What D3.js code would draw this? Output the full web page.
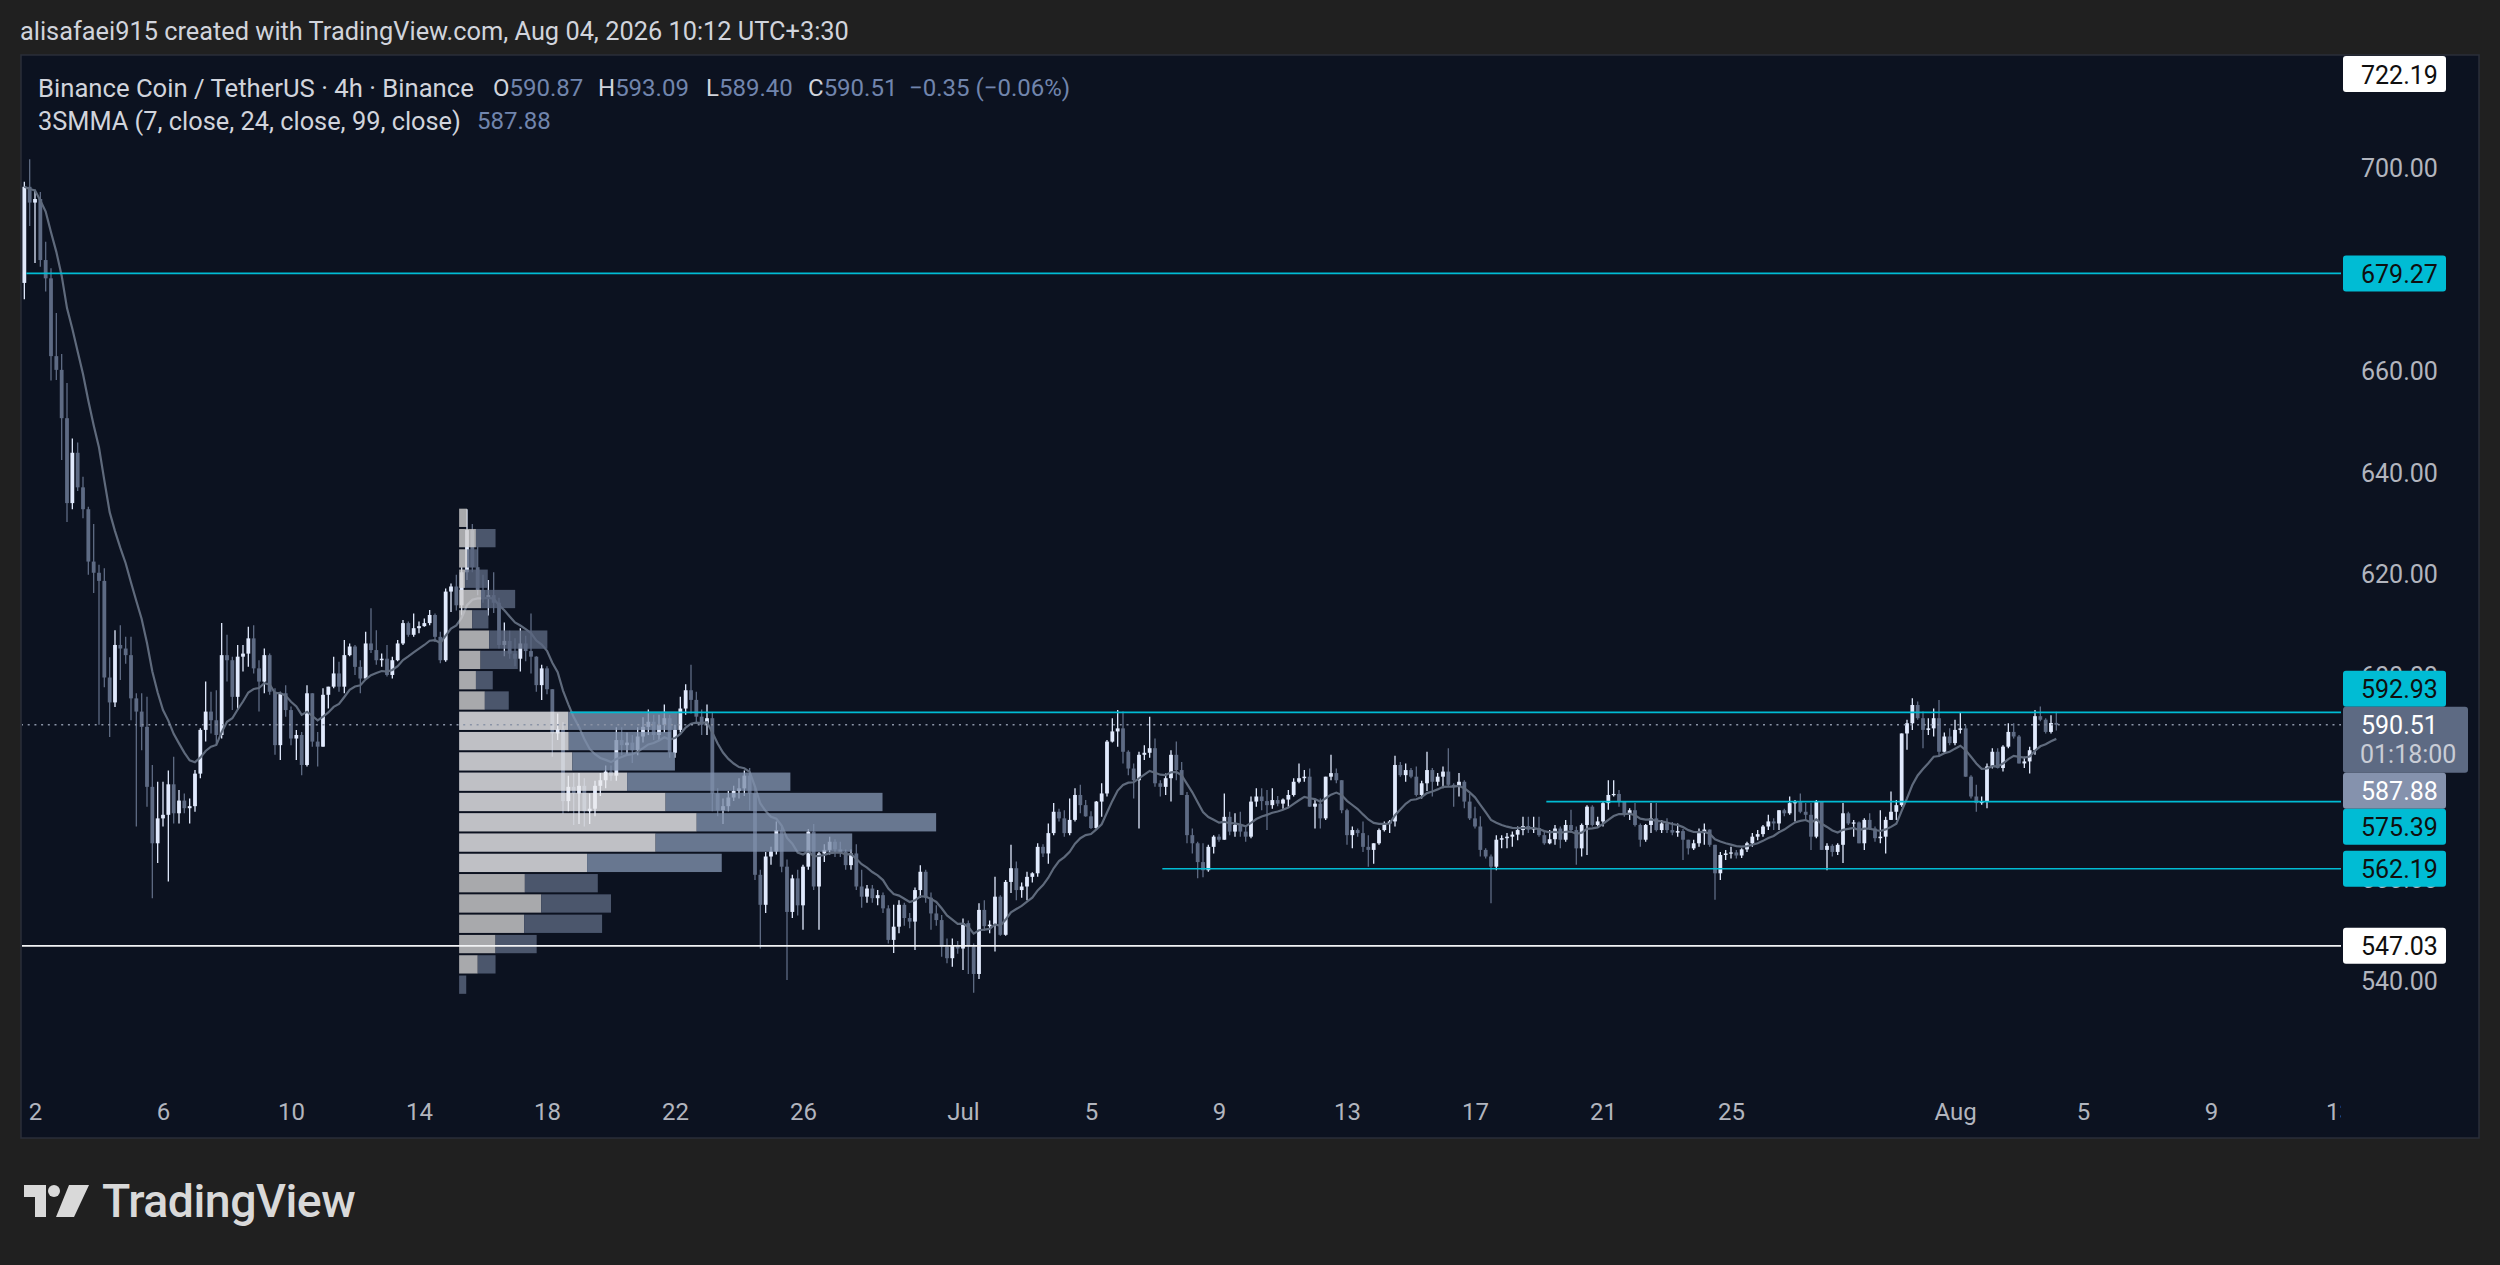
<!DOCTYPE html>
<html><head><meta charset="utf-8">
<script src="https://cdn.jsdelivr.net/npm/d3@7"></script>
<style>
html,body{margin:0;padding:0;background:#202020;overflow:hidden;}
svg{display:block;}
</style></head><body>
<svg id="chart" width="2500" height="1265"></svg>
<script>
// ---------------- DATA ----------------
const headerText = "alisafaei915 created with TradingView.com, Aug 04, 2026 10:12 UTC+3:30";
const symbolTitle = "Binance Coin / TetherUS · 4h · Binance";
const lastOHLC = {o:"590.87", h:"593.09", l:"589.40", c:"590.51", chg:"−0.35 (−0.06%)"};
const smmaTitle = "3SMMA (7, close, 24, close, 99, close)";
const smmaLastText = "587.88";
const countdownText = "01:18:00";
const smmaLength = 7;

const firstBarTime = Date.UTC(2026, 5, 1, 16); // first 4h bar shown
const barHours = 4;

const opens = [
677.4,696.3,693.2,693.9,681.9,678.3,663.0,660.3,650.8,634.1,
644.0,637.2,632.9,622.6,620.4,618.8,599.8,594.9,606.2,605.5,
604.2,595.7,593.1,590.1,578.3,567.2,572.1,572.8,578.8,573.1,
575.6,574.1,574.5,580.9,589.5,593.1,591.4,588.5,604.2,603.2,
596.0,603.9,604.5,607.5,601.6,599.0,604.2,597.0,586.5,596.7,
593.4,587.8,588.5,582.6,596.7,587.2,586.2,596.4,598.0,600.6,
598.0,604.2,605.9,601.9,599.6,606.5,605.2,603.2,603.5,600.3,
603.2,606.5,610.5,608.2,609.5,609.9,610.5,612.1,607.8,603.2,
616.7,617.7,614.0,620.5,628.8,621.5,617.0,615.5,616.0,614.5,
606.2,607.0,604.5,603.5,606.5,605.0,603.9,598.3,601.6,597.5,
588.8,589.6,575.5,578.3,577.0,578.5,573.5,574.0,578.5,579.6,
581.3,580.5,587.5,586.5,587.0,585.5,588.2,590.1,591.1,588.5,
590.5,591.8,585.0,589.5,593.7,597.3,595.4,592.1,590.5,591.8,
577.0,573.7,574.5,576.2,577.5,578.0,580.5,577.0,561.0,555.1,
564.6,565.6,569.8,562.6,553.7,560.3,555.0,562.6,569.5,558.7,
565.2,565.9,567.5,566.0,565.5,562.9,565.2,558.7,556.7,558.3,
556.4,557.0,554.4,548.2,550.8,555.1,552.5,551.8,558.0,561.6,
556.5,553.4,552.1,546.9,544.6,547.2,546.5,551.5,546.9,541.5,
554.1,550.9,551.2,556.7,549.2,559.6,562.3,558.0,558.7,560.6,
561.3,566.5,565.2,569.2,573.4,572.1,569.2,571.8,576.7,574.7,
572.5,570.2,575.4,577.0,587.2,589.2,589.8,585.2,581.9,579.6,
584.6,585.0,585.9,579.0,578.3,580.0,584.6,581.6,576.7,568.8,
567.2,563.5,561.9,566.5,568.5,567.9,572.4,569.5,570.8,569.5,
568.5,575.4,576.4,575.5,574.7,575.7,575.0,575.8,576.7,579.3,
580.0,580.3,574.4,575.0,572.1,580.3,581.0,579.6,573.7,568.8,
569.8,569.2,566.5,565.9,567.2,569.8,571.1,571.5,582.6,580.6,
581.6,580.3,576.7,579.0,581.6,579.3,580.3,581.3,578.7,578.3,
579.3,575.4,572.1,570.5,565.9,564.6,562.6,567.9,568.2,568.5,
568.9,569.8,570.6,569.9,570.2,568.8,567.2,568.0,570.1,567.9,
570.8,569.8,566.2,570.8,574.4,570.8,571.5,575.1,576.7,576.9,
575.4,572.8,573.7,570.8,567.9,570.8,572.1,569.8,571.1,569.8,
569.3,569.6,567.9,566.2,567.2,569.2,569.9,566.9,561.3,564.9,
565.2,565.4,564.8,566.0,567.2,568.5,569.0,570.5,571.5,571.1,
573.7,573.1,575.1,575.3,573.4,572.8,568.5,575.4,565.9,566.7,
565.5,566.9,573.1,571.1,571.3,567.2,571.8,570.1,568.2,568.5,
571.8,573.4,574.7,588.8,590.8,594.4,591.8,589.5,589.8,591.8,
585.2,588.2,586.9,589.5,589.8,580.3,576.4,575.1,575.4,582.3,
585.2,582.0,586.2,589.1,588.2,582.9,583.3,585.5,592.2,591.5,
589.1,590.87];

const highs = [
697.3,701.7,695.7,695.3,685.5,680.3,671.5,663.4,657.7,646.8,
646.0,639.3,633.4,630.0,622.0,621.3,603.8,609.1,610.1,607.8,
607.8,596.7,596.7,596.0,582.6,579.3,579.3,581.5,584.2,577.7,
577.0,576.0,581.6,589.8,599.0,597.0,597.3,610.5,608.2,603.9,
606.2,606.2,609.8,610.1,603.2,605.5,604.5,597.7,597.0,598.3,
594.1,589.5,589.1,598.3,596.7,589.1,597.7,598.0,603.9,602.9,
607.2,606.5,606.2,603.2,608.8,613.4,609.1,604.5,606.2,603.9,
607.2,611.1,610.8,612.4,610.8,611.4,613.1,612.4,608.8,617.3,
618.3,620.0,621.5,632.9,630.0,625.5,620.0,619.0,620.5,615.5,
610.6,609.0,607.5,609.5,608.0,612.4,604.0,602.3,602.0,597.5,
592.7,591.0,580.5,581.0,581.0,580.0,577.0,579.5,581.0,582.5,
582.5,590.0,590.0,589.0,588.5,590.0,592.0,593.5,592.5,592.5,
594.5,592.5,590.5,596.0,598.5,602.3,597.0,593.5,594.5,593.0,
578.0,576.0,577.5,578.5,580.0,581.5,582.0,578.0,562.0,565.5,
566.5,571.5,570.5,564.0,561.0,562.0,563.0,570.0,571.0,565.5,
567.0,568.5,568.0,567.5,566.0,566.0,567.0,562.0,559.0,559.0,
558.0,557.5,555.0,555.1,556.0,555.5,553.5,558.5,562.9,562.0,
557.5,555.0,553.1,548.5,548.5,548.0,552.4,552.0,547.5,555.4,
556.0,552.0,560.6,557.0,560.0,566.9,563.6,559.5,561.6,561.5,
567.2,567.0,571.1,575.1,574.0,573.7,576.0,578.0,578.7,575.7,
573.5,575.5,579.0,587.5,591.8,593.4,593.1,585.5,582.9,585.2,
586.5,592.1,587.8,579.6,580.9,585.5,587.2,583.2,577.3,570.1,
567.5,567.2,566.9,568.8,569.0,577.0,573.4,573.1,573.4,570.5,
576.4,578.0,578.0,577.7,578.0,576.5,576.0,577.7,580.0,582.9,
581.6,581.9,575.7,576.0,580.3,584.6,581.9,579.6,574.0,570.5,
570.1,571.5,568.8,567.2,570.1,571.5,571.8,584.4,583.2,582.9,
582.0,582.3,579.5,585.2,582.0,581.0,582.3,585.9,579.0,581.0,
579.6,577.0,574.4,572.5,566.2,565.0,568.8,568.8,569.2,569.5,
570.5,572.4,572.4,572.4,572.4,569.5,569.8,570.8,570.5,571.8,
573.8,570.5,571.1,574.7,574.7,572.4,575.4,579.6,579.6,577.7,
575.4,574.1,575.1,571.1,571.0,575.1,575.1,571.8,572.1,571.4,
571.1,570.0,567.9,567.9,570.1,571.1,569.9,566.9,565.5,565.9,
566.5,565.9,566.2,567.5,569.2,569.8,570.8,572.8,572.1,573.7,
574.0,576.4,575.7,577.0,575.1,575.1,575.7,575.4,567.2,567.0,
567.2,575.1,573.4,571.8,571.5,572.1,573.1,570.5,573.7,572.4,
577.4,575.7,588.8,591.5,595.7,595.1,593.1,591.8,593.7,595.4,
589.0,589.8,591.5,592.8,590.4,580.6,578.7,576.4,582.9,585.9,
585.9,586.5,590.8,590.8,588.5,584.2,586.2,593.4,594.1,591.8,
592.4,593.09];

const lows = [
674.2,688.6,681.3,680.6,675.7,658.2,658.3,642.6,630.4,632.9,
636.5,631.1,620.0,616.4,590.5,597.9,588.1,594.0,599.3,602.5,
591.4,570.5,585.5,574.4,556.4,563.3,570.5,559.7,571.1,571.1,
573.1,571.1,573.4,580.0,587.2,588.8,586.5,587.8,599.0,593.4,
593.4,601.0,601.9,600.6,593.1,596.7,596.4,584.6,583.6,592.1,
586.5,583.6,580.6,582.3,586.2,582.3,586.2,593.7,597.7,597.0,
596.7,604.0,600.3,596.7,599.3,604.6,602.3,601.9,600.0,599.6,
603.0,606.2,607.8,607.8,608.5,609.8,610.1,606.8,602.6,602.9,
612.7,613.0,612.0,619.0,620.5,616.0,614.5,612.0,612.5,605.5,
604.0,603.5,602.0,601.0,603.0,600.6,597.0,595.4,596.5,584.2,
587.5,573.0,573.5,570.8,571.0,570.5,571.0,572.5,576.5,578.0,
579.5,579.5,584.5,584.5,583.0,584.5,587.0,588.5,587.5,587.5,
589.0,584.0,584.0,589.0,592.5,592.7,591.0,588.5,588.5,573.5,
572.5,571.0,573.5,575.5,576.0,576.5,573.7,560.0,546.5,553.5,
563.0,565.0,561.5,540.3,552.5,553.0,550.2,562.0,558.0,550.2,
563.5,565.0,564.5,564.5,562.0,562.0,558.0,554.5,555.5,555.5,
555.0,553.5,547.5,545.6,549.5,551.0,550.5,546.2,556.5,555.5,
550.2,551.0,544.9,543.6,542.9,545.5,542.3,541.5,537.8,540.5,
550.0,549.5,545.9,549.0,549.0,557.4,556.0,556.5,556.0,559.5,
560.6,564.5,563.2,568.8,571.5,568.5,568.8,571.5,573.1,572.4,
570.0,570.0,572.4,576.4,587.0,586.2,582.9,580.6,576.0,570.1,
583.6,584.0,578.3,576.4,576.7,575.4,579.6,576.7,567.2,565.2,
560.3,560.5,561.6,565.2,567.5,567.9,568.8,568.5,568.5,567.5,
568.2,574.4,573.7,569.8,574.0,574.5,574.0,574.4,576.4,579.0,
579.3,574.4,570.1,570.1,571.8,579.6,579.0,573.1,566.9,566.2,
568.5,565.5,562.6,563.2,566.9,569.5,569.2,570.5,580.3,579.3,
580.0,576.4,576.0,577.5,576.4,578.5,578.0,578.4,574.4,576.4,
574.1,571.8,570.1,564.6,564.2,555.4,561.9,566.2,566.2,566.5,
567.8,568.8,569.2,569.2,568.5,566.9,567.0,566.9,566.2,567.5,
569.2,563.0,564.6,564.9,570.5,570.5,570.5,573.8,576.4,574.4,
572.4,571.8,570.5,566.5,567.5,569.2,569.5,569.2,569.2,568.8,
568.5,563.9,565.0,565.9,566.5,566.9,566.5,556.1,560.0,563.9,
564.2,564.2,564.3,565.5,566.5,567.8,568.5,569.8,569.8,569.8,
572.5,572.8,571.5,573.1,571.8,565.9,568.2,565.9,561.9,564.6,
564.9,563.3,570.8,568.5,567.2,565.9,569.8,567.5,567.2,565.2,
571.8,571.8,574.4,585.6,589.5,591.5,585.9,588.5,588.2,584.2,
584.9,586.5,586.5,588.8,580.3,576.0,573.4,574.8,574.1,581.9,
581.9,581.3,585.9,587.8,582.9,582.0,580.9,584.6,591.2,588.8,
588.8,589.40];

const closes = [
696.3,693.2,693.9,681.9,678.3,663.0,660.3,650.8,634.1,644.0,
637.2,632.9,622.6,620.4,618.8,599.8,594.9,606.2,605.5,604.2,
595.7,593.1,590.1,578.3,567.2,572.1,572.8,578.8,573.1,575.6,
574.1,574.5,580.9,589.5,593.1,591.4,588.5,604.2,603.2,596.0,
603.9,604.5,607.5,601.6,599.0,604.2,597.0,586.5,596.7,593.4,
587.8,588.5,582.6,596.7,587.2,586.2,596.4,598.0,600.6,598.0,
604.2,605.9,601.9,599.6,606.5,605.2,603.2,603.5,600.3,603.2,
606.5,610.5,608.2,609.5,609.9,610.5,612.1,607.8,603.2,616.7,
617.7,614.0,620.5,628.8,621.5,617.0,615.5,616.0,614.5,606.2,
607.0,604.5,603.5,606.5,605.0,603.9,598.3,601.6,597.5,588.8,
589.6,575.5,578.3,577.0,578.5,573.5,574.0,578.5,579.6,581.3,
580.5,587.5,586.5,587.0,585.5,588.2,590.1,591.1,588.5,590.5,
591.8,585.0,589.5,593.7,597.3,595.4,592.1,590.5,591.8,577.0,
573.7,574.5,576.2,577.5,578.0,580.5,577.0,561.0,555.1,564.6,
565.6,569.8,562.6,553.7,560.3,555.0,562.6,569.5,558.7,565.2,
565.9,567.5,566.0,565.5,562.9,565.2,558.7,556.7,558.3,556.4,
557.0,554.4,548.2,550.8,555.1,552.5,551.8,558.0,561.6,556.5,
553.4,552.1,546.9,544.6,547.2,546.5,551.5,546.9,541.5,554.1,
550.9,551.2,556.7,549.2,559.6,562.3,558.0,558.7,560.6,561.3,
566.5,565.2,569.2,573.4,572.1,569.2,571.8,576.7,574.7,572.5,
570.2,575.4,577.0,587.2,589.2,589.8,585.2,581.9,579.6,584.6,
585.0,585.9,579.0,578.3,580.0,584.6,581.6,576.7,568.8,567.2,
563.5,561.9,566.5,568.5,567.9,572.4,569.5,570.8,569.5,568.5,
575.4,576.4,575.5,574.7,575.7,575.0,575.8,576.7,579.3,580.0,
580.3,574.4,575.0,572.1,580.3,581.0,579.6,573.7,568.8,569.8,
569.2,566.5,565.9,567.2,569.8,571.1,571.5,582.6,580.6,581.6,
580.3,576.7,579.0,581.6,579.3,580.3,581.3,578.7,578.3,579.3,
575.4,572.1,570.5,565.9,564.6,562.6,567.9,568.2,568.5,568.9,
569.8,570.6,569.9,570.2,568.8,567.2,568.0,570.1,567.9,570.8,
569.8,566.2,570.8,574.4,570.8,571.5,575.1,576.7,576.9,575.4,
572.8,573.7,570.8,567.9,570.8,572.1,569.8,571.1,569.8,569.3,
569.6,567.9,566.2,567.2,569.2,569.9,566.9,561.3,564.9,565.2,
565.4,564.8,566.0,567.2,568.5,569.0,570.5,571.5,571.1,573.7,
573.1,575.1,575.3,573.4,572.8,568.5,575.4,565.9,566.7,565.5,
566.9,573.1,571.1,571.3,567.2,571.8,570.1,568.2,568.5,571.8,
573.4,574.7,588.8,590.8,594.4,591.8,589.5,589.8,591.8,585.2,
588.2,586.9,589.5,589.8,580.3,576.4,575.1,575.4,582.3,585.2,
582.0,586.2,589.1,588.2,582.9,583.3,585.5,592.2,591.5,589.1,
590.86,590.51];

// price-axis ticks (720 and 580 are fully covered by labels in the reference) and time-axis ticks
const priceTicks = [540, 560, 600, 620, 640, 660, 680, 700];
const timeTicks = ["2026-06-02","2026-06-06","2026-06-10","2026-06-14","2026-06-18","2026-06-22","2026-06-26",
  "2026-07-01","2026-07-05","2026-07-09","2026-07-13","2026-07-17","2026-07-21","2026-07-25",
  "2026-08-01","2026-08-05","2026-08-09","2026-08-13"];

// horizontal levels (price, start bar number or null = full width, kind)
const levelPrices = [722.19, 679.27, 592.93, 575.39, 562.19, 547.03];
const levelStartBars = [null, -2, 100, 283, 211, null];
const levelKinds = ["white", "cyan", "cyan", "cyan", "cyan", "white"];

// fixed range volume profile (rows top -> bottom), anchored at bar number
const profileAnchorBar = 79;
const profileHigh = 633.2;
const profileLow = 537.4;
const profileUp   = [79,168,79,60,220,132,300,214,168,257,1089,1096,1132,1679,2064,2375,1964,1279,657,821,650,364,186,0];
const profileDown = [0,196,100,226,340,161,582,372,168,239,1097,1018,1025,1632,2168,2393,1965,1346,729,697,779,411,178,71];
const valueAreaPct = 0.70;

// ---------------- LAYOUT ----------------
const svg = d3.select("#chart");
const pane = {left:21, top:55, right:2479, bottom:1138};
const plotRight = 2341;
const FONT = "Roboto, 'Noto Sans', 'DejaVu Sans', sans-serif";
const C = {
  outer:"#202020", pane:"#0c1220", border:"#2a2e39", text:"#d1d4dc", axis:"#b2b5be",
  value:"#7185ad", up:"#e1eafd", down:"#5e6b84", smma:"#5f6a7c", cyan:"#00bcd4", white:"#f2f3f5",
  priceBox:"#5d6a83", smmaBox:"#8592ad"
};

const x = d3.scaleUtc()
  .domain([new Date(Date.UTC(2026,5,2)), new Date(Date.UTC(2026,7,9))])
  .range([35, 2211]);
const y = d3.scaleLinear().domain([540, 700]).range([981.6, 168]);

const barMs = barHours*3600*1000;
const candles = closes.map((c,i)=>({t:new Date(firstBarTime + i*barMs), o:opens[i], h:highs[i], l:lows[i], c}));
const barIndexOffset = 2; // data index of bar number 0
const barX = b => x(candles[b+barIndexOffset].t);

// background
svg.append("rect").attr("width",2500).attr("height",1265).attr("fill",C.outer);
svg.append("rect").attr("x",pane.left).attr("y",pane.top)
  .attr("width",pane.right-pane.left).attr("height",pane.bottom-pane.top)
  .attr("fill",C.pane).attr("stroke",C.border).attr("stroke-width",1.5);

const defs = svg.append("defs");
defs.append("clipPath").attr("id","plotClip").append("rect")
  .attr("x",pane.left+1).attr("y",pane.top+1).attr("width",plotRight-pane.left-1).attr("height",pane.bottom-pane.top-2);

const plot = svg.append("g").attr("clip-path","url(#plotClip)");

function fit(sel, target, base){
  const n = sel.node(); const w = n.getComputedTextLength();
  if (w>0){ let s = base*target/w; s = Math.max(base*0.85, Math.min(base*1.15, s)); sel.attr("font-size", s); }
}

// ---- header ----
const hdr = svg.append("text").attr("x",20).attr("y",31).attr("dominant-baseline","central")
  .attr("font-family",FONT).attr("font-size",24).attr("fill",C.text).text(headerText);
fit(hdr, 829, 24);

// ---- candles ----
const bodyW = 3.8;
const cg = plot.append("g");
cg.selectAll("line.wick").data(candles).join("line")
  .attr("x1",d=>x(d.t)).attr("x2",d=>x(d.t))
  .attr("y1",d=>y(Math.max(d.h,d.o,d.c))).attr("y2",d=>y(Math.min(d.l,d.o,d.c)))
  .attr("stroke",d=>d.c>=d.o?C.up:C.down).attr("stroke-width",1.3);
cg.selectAll("rect.body").data(candles).join("rect")
  .attr("x",d=>x(d.t)-bodyW/2).attr("width",bodyW)
  .attr("y",d=>y(Math.max(d.o,d.c)))
  .attr("height",d=>Math.max(1.2, Math.abs(y(d.o)-y(d.c))))
  .attr("fill",d=>d.c>=d.o?C.up:C.down);

// ---- SMMA(7) ----
const smma = [];
closes.forEach((c,i)=>{ smma.push(i===0 ? c : (smma[i-1]*(smmaLength-1)+c)/smmaLength); });
plot.append("path").datum(candles.map((d,i)=>[d.t, smma[i]]))
  .attr("d", d3.line().x(d=>x(d[0])).y(d=>y(d[1])))
  .attr("fill","none").attr("stroke",C.smma).attr("stroke-width",2.2);

// ---- volume profile ----
const rows = profileUp.length;
const totals = profileUp.map((u,i)=>u+profileDown[i]);
const poc = totals.indexOf(d3.max(totals));
const sumAll = d3.sum(totals);
let lo = poc, hi = poc, acc = totals[poc];
while (acc < sumAll*valueAreaPct && (lo>0 || hi<rows-1)){
  const up = lo>0 ? totals[lo-1] : -1;
  const dn = hi<rows-1 ? totals[hi+1] : -1;
  if (up >= dn){ lo--; acc += totals[lo]; } else { hi++; acc += totals[hi]; }
}
const rowStep = (profileHigh-profileLow)/rows;
const vx = d3.scaleLinear().domain([0, d3.max(totals)]).range([0, 477]);
const px0 = barX(profileAnchorBar) + 2.8;
const pg = plot.append("g").attr("opacity",0.8);
for (let i=0;i<rows;i++){
  const top = y(profileHigh - i*rowStep), bot = y(profileHigh-(i+1)*rowStep);
  const inVA = i>=lo && i<=hi;
  const hgt = (bot-top) - 2;
  pg.append("rect").attr("x",px0).attr("y",top+1).attr("width",vx(profileUp[i])).attr("height",hgt)
    .attr("fill", inVA ? "#ececef" : "#d0cfd0");
  pg.append("rect").attr("x",px0+vx(profileUp[i])).attr("y",top+1).attr("width",vx(profileDown[i])).attr("height",hgt)
    .attr("fill", inVA ? "#8091ad" : "#5b6780");
}

// ---- horizontal levels ----
levelPrices.forEach((p,i)=>{
  const sb = levelStartBars[i];
  const x1 = sb===null ? pane.left : barX(sb) + 2;
  plot.append("line").attr("x1",x1).attr("x2",plotRight).attr("y1",y(p)).attr("y2",y(p))
    .attr("stroke", levelKinds[i]==="cyan"?C.cyan:C.white).attr("stroke-width",1.7);
});
const lastClose = closes[closes.length-1];
plot.append("line").attr("x1",pane.left).attr("x2",plotRight).attr("y1",y(lastClose)).attr("y2",y(lastClose))
  .attr("stroke","#8a93a6").attr("stroke-width",1.6).attr("stroke-dasharray","2 4.7");

// ---- axes ----
const yAxis = d3.axisRight(y).tickValues(priceTicks).tickSize(0).tickPadding(20).tickFormat(d3.format(".2f"));
svg.append("g").attr("transform",`translate(${plotRight},0)`).call(yAxis)
  .call(g=>g.select(".domain").remove())
  .attr("font-family",FONT).attr("font-size",25)
  .call(g=>g.selectAll("text").attr("fill",C.axis));

defs.append("clipPath").attr("id","timeClip").append("rect")
  .attr("x",pane.left).attr("y",1080).attr("width",plotRight-pane.left).attr("height",58);
const xAxis = d3.axisBottom(x).tickValues(timeTicks.map(s=>new Date(s+"T00:00:00Z")))
  .tickSize(0).tickPadding(0)
  .tickFormat(d=> d.getUTCDate()===1 ? d3.utcFormat("%b")(d) : d3.utcFormat("%-d")(d));
svg.append("g").attr("clip-path","url(#timeClip)").append("g").attr("transform","translate(0,1112)").call(xAxis)
  .call(g=>g.select(".domain").remove())
  .attr("font-family",FONT).attr("font-size",24)
  .call(g=>g.selectAll("text").attr("fill",C.axis).attr("y",0).attr("dy","0.35em"));

// ---- price labels ----
const lbls = [];
levelPrices.forEach((p,i)=>lbls.push({price:p, text:d3.format(".2f")(p),
  fill: levelKinds[i]==="cyan"?C.cyan:"#ffffff", color:"#0f0f0f", w:103, h:36}));
lbls.push({price:lastClose, text:d3.format(".2f")(lastClose), sub:countdownText, fill:C.priceBox, color:"#ffffff", w:125, h:66, anchor:true});
lbls.push({price:smma[smma.length-1], text:smmaLastText, fill:C.smmaBox, color:"#ffffff", w:103, h:36});
lbls.sort((a,b)=>b.price-a.price);
lbls.forEach(l=>l.top = y(l.price)-18);
const ai = lbls.findIndex(l=>l.anchor);
for (let i=ai-1;i>=0;i--) lbls[i].top = Math.min(lbls[i].top, lbls[i+1].top - lbls[i].h);
for (let i=ai+1;i<lbls.length;i++) lbls[i].top = Math.max(lbls[i].top, lbls[i-1].top + lbls[i-1].h);
lbls.forEach(l=>{ if (l.top < pane.top+1) l.top = pane.top+1; });
const lg = svg.append("g").attr("font-family",FONT).attr("font-size",25);
lbls.forEach(l=>{
  lg.append("rect").attr("x",2343).attr("y",l.top).attr("width",l.w).attr("height",l.h).attr("rx",3).attr("fill",l.fill);
  lg.append("text").attr("x",2361).attr("y",l.top+19).attr("dominant-baseline","central").attr("fill",l.color).text(l.text);
  if (l.sub) lg.append("text").attr("x",2360).attr("y",l.top+48).attr("dominant-baseline","central").attr("fill","#c9cdd6").text(l.sub);
});

// ---- legend ----
const leg = svg.append("g").attr("font-family",FONT).attr("font-size",24);
const t1 = leg.append("text").attr("x",38).attr("y",88).attr("dominant-baseline","central").attr("fill",C.text).text(symbolTitle);
fit(t1, 436, 24);
[["O",lastOHLC.o,493],["H",lastOHLC.h,598],["L",lastOHLC.l,706],["C",lastOHLC.c,808]].forEach(([k,v,xx])=>{
  const t = leg.append("text").attr("x",xx).attr("y",88).attr("dominant-baseline","central");
  t.append("tspan").attr("fill",C.text).text(k);
  t.append("tspan").attr("fill",C.value).text(v);
});
leg.append("text").attr("x",909).attr("y",88).attr("dominant-baseline","central").attr("fill",C.value).text(lastOHLC.chg);
const t2 = leg.append("text").attr("x",38).attr("y",121).attr("dominant-baseline","central").attr("fill",C.text).text(smmaTitle);
fit(t2, 423, 24);
leg.append("text").attr("x",477).attr("y",121).attr("dominant-baseline","central").attr("fill",C.value).text(smmaLastText);

// ---- TradingView watermark ----
const wm = svg.append("g").attr("fill","#d9d9d9");
wm.append("path").attr("d","M24,1185 H46 V1217 H35 V1197 H24 Z");
wm.append("circle").attr("cx",54).attr("cy",1191).attr("r",6);
wm.append("path").attr("d","M69,1185 H89 L74,1217 H56 Z");
const wt = wm.append("text").attr("x",102).attr("y",1217).attr("font-family",FONT).attr("font-weight",500)
  .attr("font-size",44).attr("letter-spacing",-0.5).text("TradingView");
fit(wt, 253, 44);
</script>
</body></html>
